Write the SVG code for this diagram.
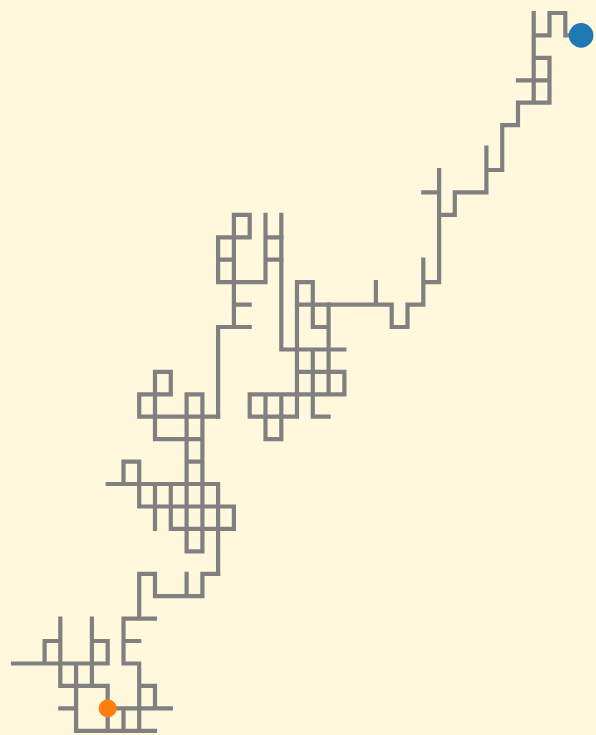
<svg xmlns="http://www.w3.org/2000/svg" width="596" height="735" viewBox="0 0 596 735">
<style>
.walk{fill:none;stroke:#808080;stroke-width:4.2;stroke-linecap:square;stroke-linejoin:miter}
.bg{fill:#fff8dc}
</style>
<rect class="bg" x="0" y="0" width="596" height="735"/>
<g id="connectors">
<path class="walk" d="M533.7 35.4H549.5M565.3 35.4H581.1M549.5 13H565.3M549.5 13V35.4M565.3 13V35.4M533.7 13V102.7M533.7 57.9H549.5M518 80.3H549.5M549.5 57.9V102.7M518 102.7H549.5M518 102.7V125.2M502.2 125.2H518M502.2 125.2V170M486.4 170H502.2M486.4 147.6V192.4M454.8 192.4H486.4M454.8 192.4V214.9M439.1 214.9H454.8M439.1 170V282.2M423.3 192.4H439.1M423.3 282.2H439.1M423.3 259.7V304.6M407.5 304.6H423.3M407.5 304.6V327M391.7 327H407.5M391.7 304.6V327M297 304.6H391.7M375.9 282.2V304.6"/>
<path class="walk" d="M297 282.2H312.8M312.8 282.2V327M312.8 327H328.6M328.6 304.6V394.3M297 282.2V416.7M281.3 214.9V349.5M281.3 349.5H344.4M297 371.9H344.4M344.4 371.9V394.3M312.8 349.5V416.7M249.7 394.3H344.4M249.7 416.7H297M312.8 416.7H328.6M249.7 394.3V416.7M265.5 394.3V439.2M281.3 394.3V439.2M265.5 439.2H281.3"/>
<path class="walk" d="M265.5 214.9V282.2M265.5 237.3H281.3M265.5 259.7H281.3M233.9 214.9H249.7M249.7 214.9V237.3M218.1 237.3H249.7M233.9 214.9V327M218.1 237.3V282.2M218.1 259.7H233.9M218.1 282.2H265.5M233.9 304.6H249.7M218.1 327H249.7M218.1 327V416.7"/>
<path class="walk" d="M139.2 416.7H218.1M139.2 394.3H170.8M139.2 394.3V416.7M155 371.9V439.2M155 371.9H170.8M170.8 371.9V394.3M186.6 394.3H202.4M186.6 394.3V551.3M202.4 394.3V551.3M155 439.2H202.4M186.6 461.6H202.4M123.5 461.6H139.2M123.5 461.6V484M139.2 461.6V506.5M107.7 484H218.1M139.2 506.5H233.9M170.8 528.9H233.9M155 484V528.9M170.8 484V528.9M218.1 484V573.8M233.9 506.5V528.9M186.6 551.3H202.4"/>
<path class="walk" d="M202.4 573.8H218.1M202.4 573.8V596.2M186.6 573.8V596.2M155 596.2H202.4M155 573.8V596.2M139.2 573.8H155M139.2 573.8V618.6M123.5 618.6H155M123.5 618.6V663.5M123.5 641H139.2M123.5 663.5H139.2M139.2 663.5V730.8M139.2 685.9H155M155 685.9V708.3M107.7 708.3H170.8M123.5 708.3V730.8M76.1 730.8H155M107.7 685.9V730.8M76.1 663.5V730.8M60.3 685.9H107.7M60.3 708.3H76.1M60.3 618.6V685.9M91.9 618.6V685.9M44.6 641H60.3M44.6 641V663.5M13 663.5H107.7M91.9 641H107.7M107.7 641V663.5"/>
</g>
<g id="end">
<circle cx="581.1" cy="35.4" r="12.3" fill="#1f77b4"/>
</g>
<g id="start">
<circle cx="107.7" cy="708.3" r="9" fill="#ff7f0e"/>
</g>
</svg>
